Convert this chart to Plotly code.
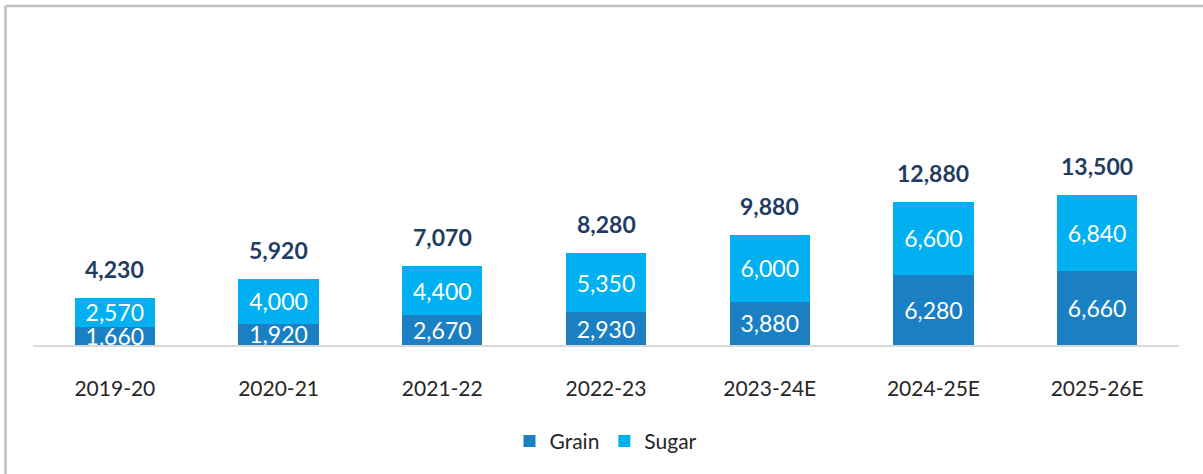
import plotly.graph_objects as go

# Ethanol supply by feedstock (values per year)
years = ["2019-20", "2020-21", "2021-22", "2022-23", "2023-24E", "2024-25E", "2025-26E"]
grain = [1660, 1920, 2670, 2930, 3880, 6280, 6660]
sugar = [2570, 4000, 4400, 5350, 6000, 6600, 6840]
totals = [4230, 5920, 7070, 8280, 9880, 12880, 13500]

GRAIN_COLOR = "#1A7FC3"
SUGAR_COLOR = "#00B0F0"
TOTAL_COLOR = "#1F3D63"
FONT = "Lato"

W, H = 1203, 474
ML, MR, MT, MB = 33, 24, 67, 127
plot_w = W - ML - MR
plot_h = H - MT - MB

fig = go.Figure()
fig.add_trace(go.Bar(
    x=years, y=grain, name="Grain", marker=dict(color=GRAIN_COLOR, line=dict(width=0)),
    text=[f"{v:,}" for v in grain], textposition="inside", insidetextanchor="middle",
    textfont=dict(color="white", size=23, family=FONT), constraintext="none",
))
fig.add_trace(go.Bar(
    x=years, y=sugar, name="Sugar", marker=dict(color=SUGAR_COLOR, line=dict(width=0)),
    text=[f"{v:,}" for v in sugar], textposition="inside", insidetextanchor="middle",
    textfont=dict(color="white", size=23, family=FONT), constraintext="none",
))

# Total labels above each stack
for yr, t in zip(years, totals):
    fig.add_annotation(
        x=yr, y=t, text=f"<b>{t:,}</b>", showarrow=False,
        yanchor="middle", yshift=29,
        font=dict(color=TOTAL_COLOR, size=23, family=FONT),
    )

# Chart frame (top and left edges visible)
px_x = lambda p: (p - ML) / plot_w
px_y = lambda p: (H - MB - p) / plot_h
frame = dict(color="#BFBFBF", width=2.5)
fig.add_shape(type="line", xref="paper", yref="paper",
              x0=px_x(5.5), x1=px_x(W + 10), y0=px_y(5.5), y1=px_y(5.5), line=frame)
fig.add_shape(type="line", xref="paper", yref="paper",
              x0=px_x(5.5), x1=px_x(5.5), y0=px_y(5.5), y1=px_y(H + 10), line=frame)

fig.update_layout(
    width=W, height=H,
    margin=dict(l=ML, r=MR, t=MT, b=MB),
    barmode="stack", bargap=0.51,
    plot_bgcolor="white", paper_bgcolor="white",
    font=dict(family=FONT, color="#262626"),
    uniformtext=dict(minsize=23, mode="show"),
    showlegend=True,
    legend=dict(orientation="h", x=0.5, xanchor="center", y=px_y(444), yanchor="middle",
                font=dict(size=21, family=FONT, color="#262626"), traceorder="normal",
                itemclick=False),
    xaxis=dict(showline=True, linecolor="#D9D9D9", linewidth=2, ticks="outside",
               ticklen=24, tickcolor="rgba(0,0,0,0)", tickfont=dict(size=21, family=FONT, color="#262626"),
               showgrid=False, zeroline=False, fixedrange=True),
    yaxis=dict(range=[0, 25000], visible=False, showgrid=False, zeroline=False, fixedrange=True),
)

fig.write_html("out.html")
